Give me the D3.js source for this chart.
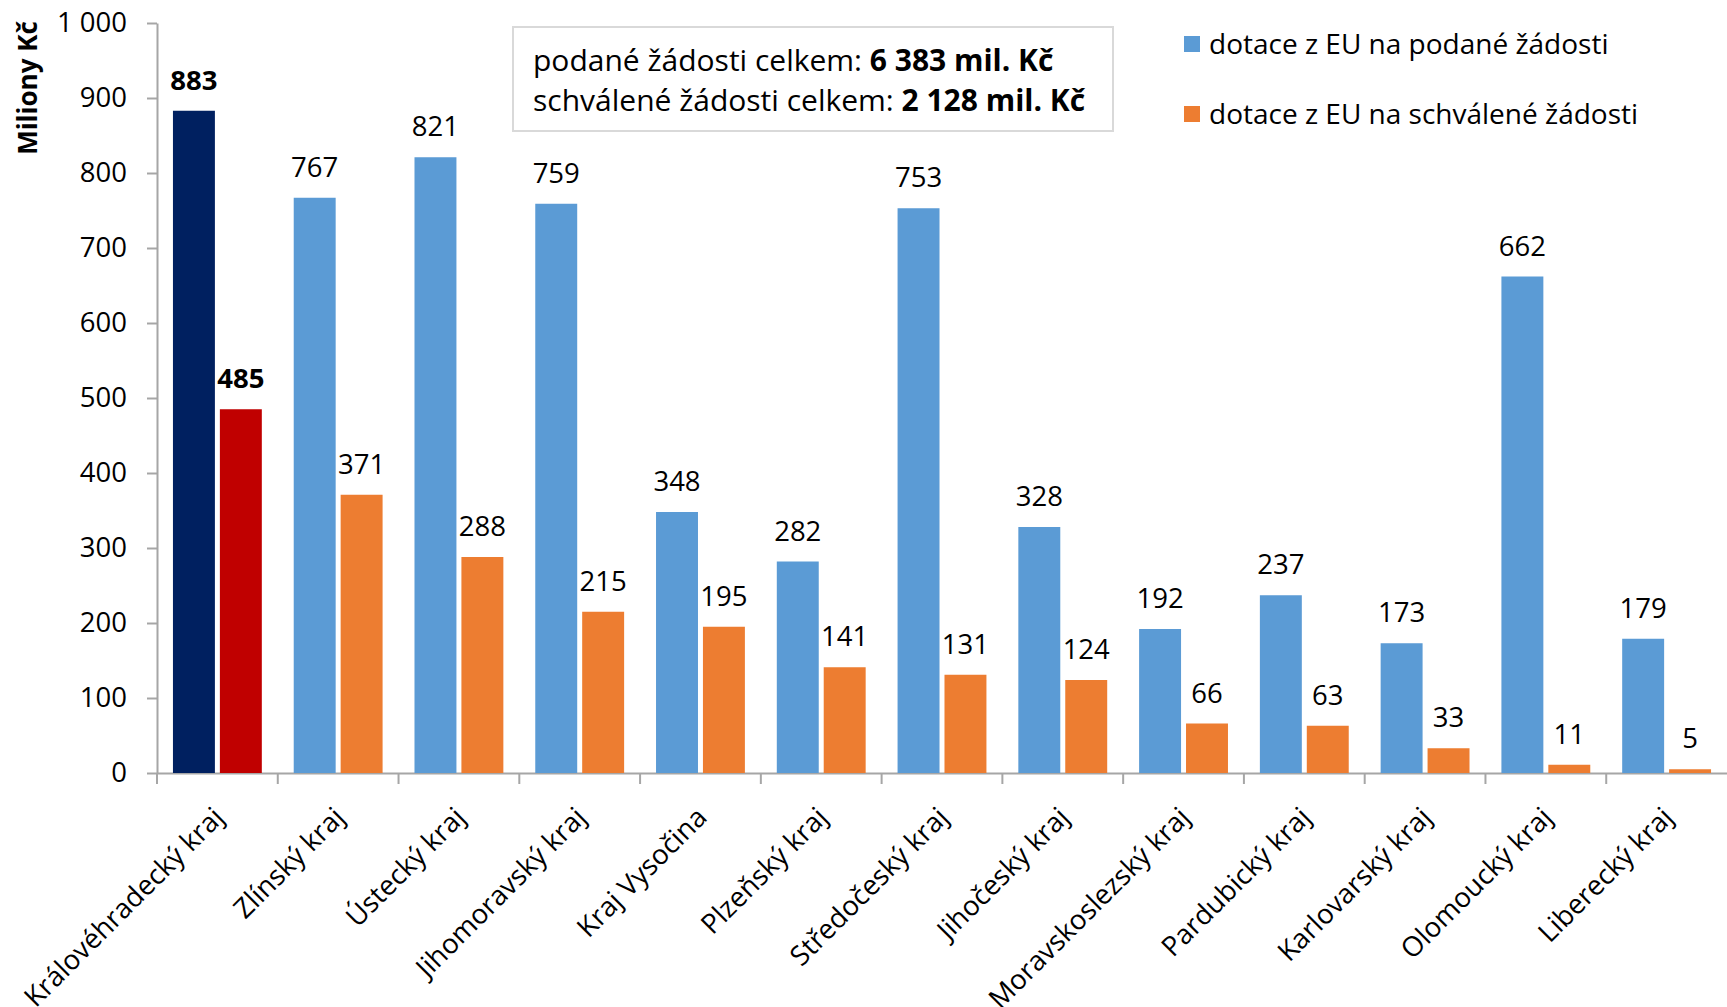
<!DOCTYPE html>
<html>
<head>
<meta charset="utf-8">
<script src="https://cdn.jsdelivr.net/npm/d3@7"></script>
<style>
  body { margin: 0; background: #fff; }
  text { font-family: "Open Sans", "Noto Sans", sans-serif; fill: #000; }
  .axis path, .axis line { stroke: #a6a6a6; stroke-width: 2px; }
</style>
</head>
<body>
<script>
// data (mil. Kč)
var regions = ["Královéhradecký kraj", "Zlínský kraj", "Ústecký kraj", "Jihomoravský kraj",
  "Kraj Vysočina", "Plzeňský kraj", "Středočeský kraj", "Jihočeský kraj",
  "Moravskoslezský kraj", "Pardubický kraj", "Karlovarský kraj", "Olomoucký kraj", "Liberecký kraj"];
var podane = [883, 767, 821, 759, 348, 282, 753, 328, 192, 237, 173, 662, 179];
var schvalene = [485, 371, 288, 215, 195, 141, 131, 124, 66, 63, 33, 11, 5];
var yTicks = [0, 100, 200, 300, 400, 500, 600, 700, 800, 900, 1000];
var seriesNames = ["dotace z EU na podané žádosti", "dotace z EU na schválené žádosti"];
var totalLabels = ["podané žádosti celkem: ", "schválené žádosti celkem: "];
var totalValues = ["6 383 mil. Kč", "2 128 mil. Kč"];
var highlight = "Královéhradecký kraj";

var w = 1727;
var h = 1007;
var padLeft = 157;
var padTop = 23;
var axisY = 773;

var colors = ["#5b9bd5", "#ed7d31"];
var hiColors = ["#002060", "#c00000"];

var svg = d3.select("body")
            .append("svg")
            .attr("width", w)
            .attr("height", h);

/****Scales****/
var xScale = d3.scaleBand()
               .domain(regions)
               .range([padLeft, w])
               .paddingInner(0)
               .paddingOuter(0);
var subScale = d3.scaleBand()
                 .domain([0, 1])
                 .range([0, xScale.bandwidth()])
                 .paddingInner(0.106)
                 .paddingOuter(0.34);
var yScale = d3.scaleLinear()
               .domain([0, 1000])
               .range([axisY, padTop]);

var loc = d3.formatLocale({ decimal: ",", thousands: "\u00a0", grouping: [3], currency: ["", " Kč"] });
var fmt = loc.format(",d");

/****Axes****/
var yAxis = d3.axisLeft(yScale)
              .tickValues(yTicks)
              .tickFormat(fmt)
              .tickSize(10)
              .tickSizeOuter(0)
              .tickPadding(20);
var gy = svg.append("g")
   .attr("class", "axis")
   .attr("transform", "translate(" + padLeft + ",0)")
   .call(yAxis);
gy.selectAll("text").style("font-size", "27.5px");

var xAxis = d3.axisBottom(xScale)
              .tickSize(0)
              .tickSizeOuter(0);
var gx = svg.append("g")
   .attr("class", "axis")
   .attr("transform", "translate(0," + axisY + ")")
   .call(xAxis);
gx.selectAll("text")
  .style("font-size", "27.5px")
  .attr("text-anchor", "end")
  .attr("x", 0)
  .attr("y", 0)
  .attr("dy", 0)
  .attr("transform", "translate(8,46) rotate(-45)");

// category boundary ticks
gx.selectAll("line.sep")
  .data(regions)
  .enter()
  .append("line")
  .attr("class", "sep")
  .attr("x1", function(d){ return xScale(d); })
  .attr("x2", function(d){ return xScale(d); })
  .attr("y1", 0)
  .attr("y2", 11);

/****Bars****/
var rows = regions.map(function(r, i){
  return { region: r, values: [podane[i], schvalene[i]] };
});

var groups = svg.selectAll("g.region")
   .data(rows)
   .enter()
   .append("g")
   .attr("class", "region")
   .attr("transform", function(d){ return "translate(" + xScale(d.region) + ",0)"; });

groups.selectAll("rect")
   .data(function(d){
     return d.values.map(function(v, k){ return { k: k, v: v, hi: d.region === highlight }; });
   })
   .enter()
   .append("rect")
   .attr("x", function(d){ return subScale(d.k); })
   .attr("y", function(d){ return yScale(d.v); })
   .attr("width", subScale.bandwidth())
   .attr("height", function(d){ return axisY - yScale(d.v); })
   .attr("fill", function(d){ return d.hi ? hiColors[d.k] : colors[d.k]; });

groups.selectAll("text.val")
   .data(function(d){
     return d.values.map(function(v, k){ return { k: k, v: v, hi: d.region === highlight }; });
   })
   .enter()
   .append("text")
   .attr("class", "val")
   .attr("x", function(d){ return subScale(d.k) + subScale.bandwidth() / 2; })
   .attr("y", function(d){ return yScale(d.v) - 21; })
   .attr("text-anchor", "middle")
   .style("font-size", "27.5px")
   .style("font-weight", function(d){ return d.hi ? "bold" : "normal"; })
   .text(function(d){ return fmt(d.v); });

/****Y title****/
svg.append("text")
   .attr("transform", "translate(37,88) rotate(-90)")
   .attr("text-anchor", "middle")
   .style("font-size", "26px")
   .style("font-weight", "bold")
   .text("Miliony Kč");

/****Totals box****/
svg.append("rect")
   .attr("x", 513)
   .attr("y", 27)
   .attr("width", 600)
   .attr("height", 104)
   .attr("fill", "#fff")
   .attr("stroke", "#d9d9d9")
   .attr("stroke-width", 2);

totalLabels.forEach(function(t, i){
  var tx = svg.append("text")
     .attr("x", 533)
     .attr("y", 71 + i * 40)
     .style("font-size", "30px");
  tx.append("tspan").text(t);
  tx.append("tspan").style("font-weight", "bold").text(totalValues[i]);
});

/****Legend****/
var legend = svg.selectAll("g.legend")
   .data(seriesNames)
   .enter()
   .append("g")
   .attr("class", "legend")
   .attr("transform", function(d, i){ return "translate(1184," + (36 + i * 70) + ")"; });
legend.append("rect")
   .attr("width", 16)
   .attr("height", 16)
   .attr("fill", function(d, i){ return colors[i]; });
legend.append("text")
   .attr("x", 25)
   .attr("y", 18)
   .style("font-size", "28px")
   .text(function(d){ return d; });
</script>
</body>
</html>
